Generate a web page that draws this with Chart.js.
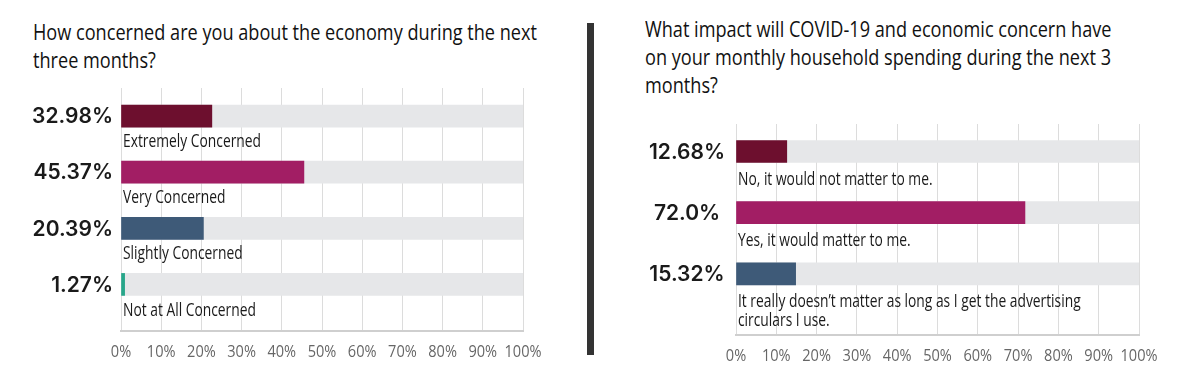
<!DOCTYPE html>
<html>
<head>
<meta charset="utf-8">
<script src="https://cdn.jsdelivr.net/npm/chart.js@4.4.1/dist/chart.umd.min.js"></script>
<style>
  body { margin: 0; background: #fff; width: 1204px; height: 387px; overflow: hidden; position: relative; }
  .title { position: absolute; font-family: "Open Sans", sans-serif; font-size: 21px; line-height: 28px; color: #111; }
  .title div { white-space: nowrap; transform-origin: 0 0; }
  #t1 { left: 33px; top: 18px; }
  #t2 { left: 645px; top: 15px; }
  #sep { position: absolute; left: 587px; top: 23px; width: 7px; height: 332px; background: #333; }
  canvas { position: absolute; top: 0; }
  #c1 { left: 0; }
  #c2 { left: 600px; }
</style>
</head>
<body>
<div class="title" id="t1"><div>How concerned are you about the economy during the next</div><div>three months?</div></div>
<div class="title" id="t2"><div>What impact will COVID-19 and economic concern have</div><div>on your monthly household spending during the next 3</div><div>months?</div></div>
<div id="sep"></div>
<canvas id="c1" width="590" height="387"></canvas>
<canvas id="c2" width="604" height="387"></canvas>
<script>
// left chart: economy concern
var concernLabels = ["Extremely Concerned", "Very Concerned", "Slightly Concerned", "Not at All Concerned"];
var concernText = ["32.98%", "45.37%", "20.39%", "1.27%"];
// bar lengths as drawn in the picture (first bar is drawn shorter than its label says)
var concernBars = [22.6, 45.5, 20.5, 0.9];
var concernColors = ["#6d0f2e", "#a21e64", "#3e5a78", "#27a68a"];

// right chart: household spending
var spendLabels = [["No, it would not matter to me."], ["Yes, it would matter to me."],
  ["It really doesn\u2019t matter as long as I get the advertising", "circulars I use."]];
var spendText = ["12.68%", "72.0%", "15.32%"];
var spendBars = [12.6, 71.7, 14.8];
var spendColors = ["#6d0f2e", "#a21e64", "#3e5a78"];

var tickValues = [0, 10, 20, 30, 40, 50, 60, 70, 80, 90, 100];

var CAT_FONT = "18px 'Open Sans', sans-serif";
var TICK_FONT = "17px 'Open Sans', sans-serif";

// squeeze titles to the condensed width of the original face
(function() {
  var m = document.createElement("canvas").getContext("2d");
  m.font = "21px 'Open Sans'";
  var sx = 504 / m.measureText("How concerned are you about the economy during the next").width;
  document.querySelectorAll(".title div").forEach(function(d) { d.style.transform = "scaleX(" + sx + ")"; });
})();

function squeezed(ctx, text, x, y, sx, align) {
  ctx.save();
  ctx.translate(x, y);
  ctx.scale(sx, 1);
  ctx.textAlign = align;
  ctx.fillText(text, 0, 0);
  ctx.restore();
}

var labelPlugin = {
  id: "barLabels",
  afterDraw: function(chart) {
    var o = chart.options.plugins.barLabels;
    var ctx = chart.ctx;
    var area = chart.chartArea;
    var meta = chart.getDatasetMeta(0);
    ctx.save();
    ctx.textBaseline = "middle";
    ctx.font = CAT_FONT;
    var catSx = 138 / ctx.measureText("Extremely Concerned").width;
    meta.data.forEach(function(bar, i) {
      var bottom = bar.y + bar.height / 2;
      ctx.fillStyle = "#1a1a1a";
      ctx.font = "600 21px Inter, sans-serif";
      ctx.textAlign = o.pctAlign;
      ctx.fillText(o.pct[i], o.pctX, bar.y + 1);
      ctx.font = CAT_FONT;
      [].concat(o.cats[i]).forEach(function(line, j) {
        squeezed(ctx, line, area.left + 2, bottom + o.catGap + j * 19, catSx, "left");
      });
    });
    // x tick labels
    ctx.font = TICK_FONT;
    ctx.fillStyle = "#666";
    var tickSx = 37 / ctx.measureText("100%").width;
    var xs = chart.scales.x;
    tickValues.forEach(function(v) {
      squeezed(ctx, v + "%", xs.getPixelForValue(v), area.bottom + 21, tickSx, "center");
    });
    ctx.restore();
  }
};

function makeChart(id, bars, colors, pct, cats, cfg) {
  var pts = bars.map(function(v, i) { return { x: v, y: i }; });
  var bg = bars.map(function(v, i) { return { x: 100, y: i }; });
  return new Chart(document.getElementById(id), {
    type: "bar",
    data: {
      datasets: [
        { data: pts, backgroundColor: colors, barThickness: 22, grouped: false, order: 0 },
        { data: bg, backgroundColor: "#e6e7e9", barThickness: 22, grouped: false, order: 1 }
      ]
    },
    options: {
      indexAxis: "y",
      responsive: false,
      animation: false,
      layout: { padding: cfg.padding },
      scales: {
        x: {
          type: "linear", min: 0, max: 100,
          afterBuildTicks: function(s) { s.ticks = tickValues.map(function(v) { return { value: v }; }); },
          afterFit: function(s) { s.height = cfg.axisH; },
          grid: { color: "#dcdcdc", lineWidth: 1, drawTicks: false },
          border: { color: "#cfcfcf", width: 2 },
          ticks: { display: false }
        },
        y: { type: "linear", reverse: true, offset: false, min: cfg.yMin, max: cfg.yMax, display: false }
      },
      plugins: {
        legend: { display: false },
        tooltip: { enabled: false },
        barLabels: { pct: pct, cats: cats, pctX: cfg.pctX, pctAlign: cfg.pctAlign, catGap: cfg.catGap }
      }
    },
    plugins: [labelPlugin]
  });
}

makeChart("c1", concernBars, concernColors, concernText, concernLabels, {
  padding: { left: 121, right: 67, top: 88, bottom: 0 }, axisH: 56,
  yMin: -0.5, yMax: 3.83, pctX: 113, pctAlign: "right", catGap: 15
});
makeChart("c2", spendBars, spendColors, spendText, spendLabels, {
  padding: { left: 136, right: 65, top: 124, bottom: 0 }, axisH: 52,
  yMin: -0.45, yMax: 3.0, pctX: 87, pctAlign: "center", catGap: 17
});
</script>
</body>
</html>
